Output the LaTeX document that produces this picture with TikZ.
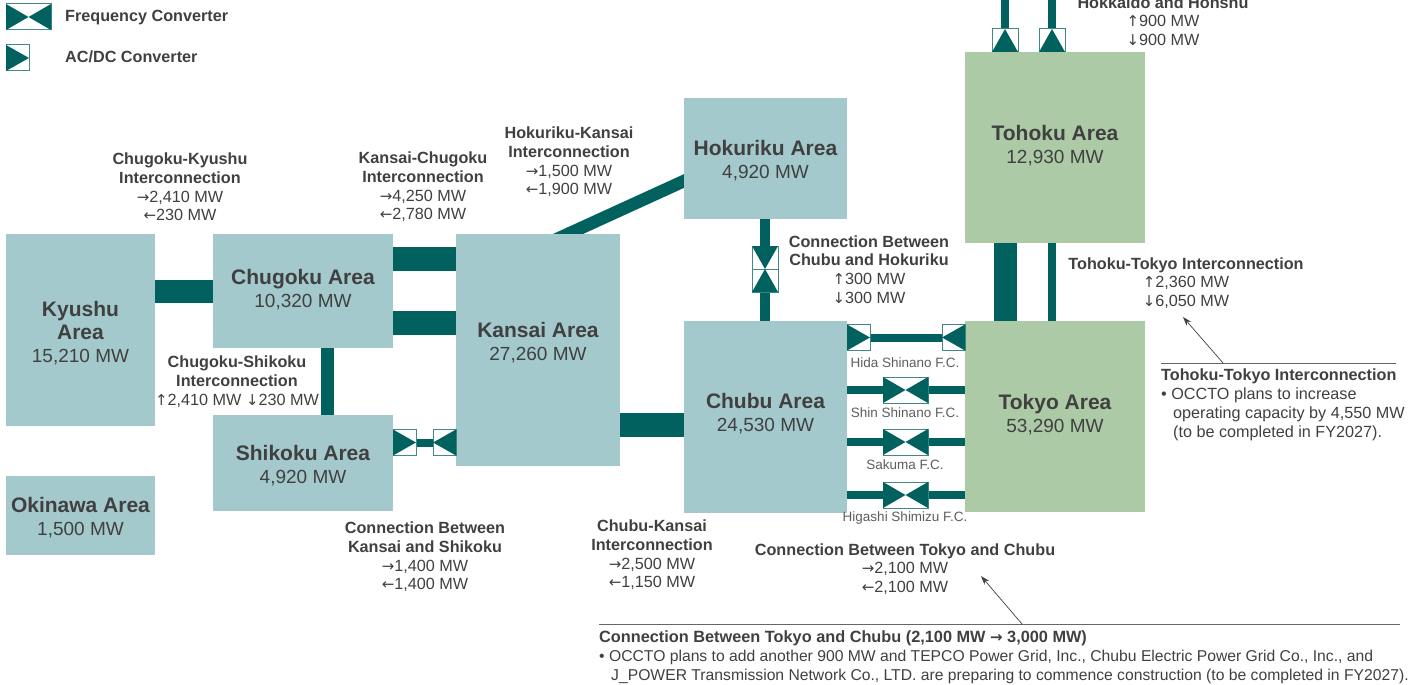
\documentclass[tikz,border=0pt]{standalone}
\usepackage{fontspec}
\setmainfont{Liberation Sans}
\newfontfamily\arrowfont{DejaVu Sans}
\usepackage{xcolor}
\definecolor{areaBlue}{HTML}{A3C9CC}
\definecolor{areaGreen}{HTML}{ABCAA5}
\definecolor{tieTeal}{HTML}{00615F}
\definecolor{convEdge}{HTML}{3F8987}
\definecolor{inkGrey}{HTML}{404040}
\usetikzlibrary{arrows.meta, backgrounds}
\newcommand{\areaname}[1]{{\fontsize{21}{23}\selectfont\bfseries #1}}
\newcommand{\arrowE}{{\arrowfont\fontsize{15}{15}\selectfont →}}
\newcommand{\arrowW}{{\arrowfont\fontsize{15}{15}\selectfont ←}}
\newcommand{\arrowN}{{\arrowfont\fontsize{15}{15}\selectfont ↑}}
\newcommand{\arrowS}{{\arrowfont\fontsize{15}{15}\selectfont ↓}}

\begin{document}
\begin{tikzpicture}[
		x=1pt, y=-1pt,
		area/.style={
			anchor=north west,
			inner sep=0pt,
			outer sep=0pt,
			align=center,
			text=inkGrey,
			font=\fontsize{19}{23}\selectfont
		},
		blue/.style={area, fill=areaBlue},
		green/.style={area, fill=areaGreen},
		conv/.style={
			draw=convEdge,
			fill=white,
			line width=1pt,
			inner sep=0pt,
			outer sep=0pt,
			anchor=north west
		},
		acdc/.style n args={3}{
			conv,
			minimum width=23pt,
			minimum height=26pt,
			postaction={path picture={\fill[tieTeal] (path picture bounding box.#1) -- (path picture bounding box.#2) -- (path picture bounding box.#3) -- cycle;}}
		},
		freq/.style={
			conv,
			minimum width=45pt,
			minimum height=26pt,
			postaction={path picture={
				\fill[tieTeal] (path picture bounding box.north west) -- (path picture bounding box.center) -- (path picture bounding box.south west) -- cycle;
				\fill[tieTeal] (path picture bounding box.north east) -- (path picture bounding box.center) -- (path picture bounding box.south east) -- cycle;
			}}
		},
		tie/.style={draw=tieTeal, line width=#1, shorten <=-6pt, shorten >=-6pt},
		caption/.style={
			align=center,
			inner sep=0pt,
			text=inkGrey,
			font=\fontsize{16.2}{18.7}\selectfont
		},
		station/.style={
			inner sep=0pt,
			text=inkGrey!85,
			font=\fontsize{13.5}{15}\selectfont
		},
		note/.style={
			anchor=north west,
			align=left,
			inner sep=0pt,
			text=inkGrey,
			font=\fontsize{16.2}{19}\selectfont
		},
		rule/.style={draw=inkGrey!80, line width=0.8pt},
		pointer/.style={-{Stealth[length=9pt, width=6pt]}, draw=inkGrey, line width=0.7pt}
		]
		\useasboundingbox (0,0) rectangle (1424,685);
		
		% legend
		\node[freq] (legendFreq) at (6,4) {};
		\node[acdc={north west}{east}{south west}] (legendAcdc) at (6,45) {};
		\node[caption, anchor=base west] (legendFreqText) at (65,22) {\textbf{Frequency Converter}};
		\node[caption, anchor=base west] (legendAcdcText) at (65,63) {\textbf{AC/DC Converter}};
		
		% areas
		\node[blue, minimum width=149pt, minimum height=192pt, text height=68pt] (kyushu) at (6,234) {\areaname{Kyushu}\\\areaname{Area}\\15,210 MW};
		\node[blue, minimum width=180pt, minimum height=114pt, text depth=6pt] (chugoku) at (213,234) {\areaname{Chugoku Area}\\10,320 MW};
		\node[blue, minimum width=180pt, minimum height=96pt, text height=43pt] (shikoku) at (213,415) {\areaname{Shikoku Area}\\4,920 MW};
		\node[blue, minimum width=149pt, minimum height=79pt, text height=43pt] (okinawa) at (6,476) {\areaname{Okinawa Area}\\1,500 MW};
		\node[blue, minimum width=164pt, minimum height=232pt, text depth=18pt] (kansai) at (456,234) {\areaname{Kansai Area}\\27,260 MW};
		\node[blue, minimum width=163pt, minimum height=121pt, text height=43pt] (hokuriku) at (684,98) {\areaname{Hokuriku Area}\\4,920 MW};
		\node[blue, minimum width=163pt, minimum height=192pt, text depth=9pt] (chubu) at (684,321) {\areaname{Chubu Area}\\24,530 MW};
		\node[green, minimum width=180pt, minimum height=191pt, text depth=7pt] (tokyo) at (965,321) {\areaname{Tokyo Area}\\53,290 MW};
		\node[green, minimum width=180pt, minimum height=191pt, text depth=7pt] (tohoku) at (965,52) {\areaname{Tohoku Area}\\12,930 MW};
		
		% converters
		\node[acdc={north west}{east}{south west}] (shikokuConvW) at (393,429.5) {};
		\node[acdc={north east}{west}{south east}] (shikokuConvE) at (433,429.5) {};
		\node[acdc={north west}{south}{north east}, minimum width=26pt, minimum height=23pt] (hokurikuConv) at (752,246) {};
		\node[acdc={south west}{north}{south east}, minimum width=26pt, minimum height=23pt] (chubuConv) at (752,269) {};
		\node[acdc={north west}{east}{south west}] (hidaW) at (847,324.5) {};
		\node[acdc={north east}{west}{south east}] (hidaE) at (942,324.5) {};
		\node[freq] (shinShinano) at (883,377) {};
		\node[freq] (sakuma) at (883,429) {};
		\node[freq] (higashi) at (883,482) {};
		\node[acdc={south west}{north}{south east}, minimum width=26pt, minimum height=23pt] (northConvW) at (992,29) {};
		\node[acdc={south west}{north}{south east}, minimum width=26pt, minimum height=23pt] (northConvE) at (1039,29) {};
		\coordinate (northEndW) at (1005,0);
		\coordinate (northEndE) at (1052,0);
		
		% ties
		\begin{pgfonlayer}{background}
			\draw[tie=23pt] (kyushu.east |- chugoku.west) -- (chugoku.west);
			\draw[tie=24pt] ([yshift=32pt]chugoku.east) -- ([yshift=91pt]kansai.west);
			\draw[tie=24pt] ([yshift=-32pt]chugoku.east) -- ([yshift=27pt]kansai.west);
			\draw[tie=13pt] ([xshift=24pt]chugoku.south) -- ([xshift=24pt]shikoku.north);
			\draw[tie=8pt] (shikokuConvW) -- (shikokuConvE);
			\draw[tie=24pt] ([yshift=-75pt]kansai.east) -- ([yshift=-8pt]chubu.west);
			\draw[tie=12.5pt, shorten <=-20pt, shorten >=-20pt] ([yshift=-22.5pt]hokuriku.west) -- ([xshift=30pt]kansai.north);
			\draw[tie=10pt] ([xshift=-0.5pt]hokuriku.south) -- ([xshift=-0.5pt]chubu.north);
			\draw[tie=8pt] (hidaW) -- (hidaE);
			\draw[tie=8pt] (chubu.east |- shinShinano) -- (tokyo.west |- shinShinano);
			\draw[tie=8pt] (chubu.east |- sakuma) -- (tokyo.west |- sakuma);
			\draw[tie=8pt] (chubu.east |- higashi) -- (tokyo.west |- higashi);
			\draw[tie=23pt] ([xshift=-49.5pt]tohoku.south) -- ([xshift=-49.5pt]tokyo.north);
			\draw[tie=8pt] ([xshift=-3pt]tohoku.south) -- ([xshift=-3pt]tokyo.north);
			\draw[tie=8pt] (northConvW) -- (northEndW);
			\draw[tie=8pt] (northConvE) -- (northEndE);
		\end{pgfonlayer}
		
		% converter names
		\node[station] (hidaText) at (905,363) {Hida Shinano F.C.};
		\node[station] (shinText) at (905,413) {Shin Shinano F.C.};
		\node[station] (sakumaText) at (905,465) {Sakuma F.C.};
		\node[station] (higashiText) at (905,518) {Higashi Shimizu F.C.};
		
		% capacities
		\node[caption] (kyushuCap) at (180,187) {\textbf{Chugoku-Kyushu}\\\textbf{Interconnection}\\\arrowE2,410 MW\\\arrowW230 MW};
		\node[caption] (chugokuCap) at (423,187) {\textbf{Kansai-Chugoku}\\\textbf{Interconnection}\\\arrowE4,250 MW\\\arrowW2,780 MW};
		\node[caption] (hokurikuCap) at (569,162) {\textbf{Hokuriku-Kansai}\\\textbf{Interconnection}\\\arrowE1,500 MW\\\arrowW1,900 MW};
		\node[caption] (shikokuCap) at (237,381.5) {\textbf{Chugoku-Shikoku}\\\textbf{Interconnection}\\\arrowN2,410 MW \arrowS230 MW};
		\node[caption] (kansaiCap) at (425,557) {\textbf{Connection Between}\\\textbf{Kansai and Shikoku}\\\arrowE1,400 MW\\\arrowW1,400 MW};
		\node[caption] (chubuCap) at (652,555) {\textbf{Chubu-Kansai}\\\textbf{Interconnection}\\\arrowE2,500 MW\\\arrowW1,150 MW};
		\node[caption] (hokurikuChubuCap) at (869,269.5) {\textbf{Connection Between}\\\textbf{Chubu and Hokuriku}\\\arrowN300 MW\\\arrowS300 MW};
		\node[caption] (tokyoCap) at (905,569) {\textbf{Connection Between Tokyo and Chubu}\\\arrowE2,100 MW\\\arrowW2,100 MW};
		\node[caption] (tohokuCap) at (1186,283) {\textbf{Tohoku-Tokyo Interconnection}\\\arrowN2,360 MW\\\arrowS6,050 MW};
		\node[caption] (northCap) at (1163,21) {\textbf{Hokkaido and Honshu}\\\arrowN900 MW\\\arrowS900 MW};
		
		% notes
		\node[note] (tohokuNote) at (1161,369) {\textbf{Tohoku-Tokyo Interconnection}\\• OCCTO plans to increase\\\hspace*{12pt}operating capacity by 4,550 MW\\\hspace*{12pt}(to be completed in FY2027).};
		\node[note, font=\fontsize{15.7}{19}\selectfont] (tokyoNote) at (599,630) {{\fontsize{16.3}{19}\selectfont\bfseries Connection Between Tokyo and Chubu (2,100 MW \arrowE{} 3,000 MW)}\\• OCCTO plans to add another 900 MW and TEPCO Power Grid, Inc., Chubu Electric Power Grid Co., Inc., and\\\hspace*{12pt}J\_POWER Transmission Network Co., LTD. are preparing to commence construction (to be completed in FY2027).};
		\coordinate (tohokuRuleEnd) at (1396,363);
		\coordinate (tohokuFoot) at (1223,363);
		\coordinate (tohokuTip) at (1183,317);
		\coordinate (tokyoRuleStart) at (599,624);
		\coordinate (tokyoRuleEnd) at (1400,624);
		\coordinate (tokyoFoot) at (1022,624);
		\coordinate (tokyoTip) at (981,576);
		\draw[rule] (tohokuNote.north west |- tohokuRuleEnd) -- (tohokuRuleEnd);
		\draw[rule] (tokyoRuleStart) -- (tokyoRuleEnd);
		\draw[pointer] (tohokuFoot) -- (tohokuTip);
		\draw[pointer] (tokyoFoot) -- (tokyoTip);
		
	\end{tikzpicture}
\end{document}
